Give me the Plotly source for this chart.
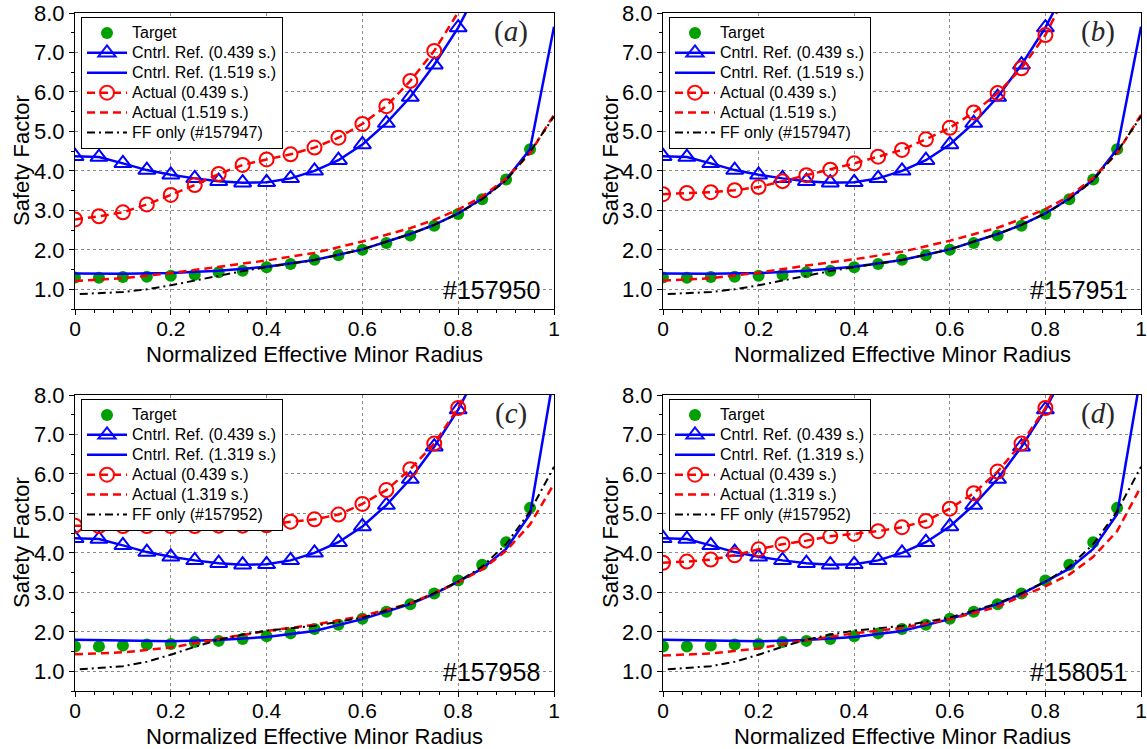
import plotly.graph_objects as go
from plotly.subplots import make_subplots

# ---- data -------------------------------------------------------------
# normalized effective minor radius at the sampled profile points
RHO_PTS = [0.00, 0.05, 0.10, 0.15, 0.20, 0.25, 0.30, 0.35, 0.40, 0.45,
           0.50, 0.55, 0.60, 0.65, 0.70, 0.75, 0.80, 0.85, 0.90, 0.95]

# target q-profiles
TARGET_AB = [1.30, 1.29, 1.31, 1.32, 1.34, 1.37, 1.43, 1.47, 1.56, 1.64,
             1.75, 1.86, 2.00, 2.17, 2.36, 2.61, 2.91, 3.28, 3.78, 4.55]
TARGET_CD = [1.63, 1.63, 1.65, 1.68, 1.69, 1.74, 1.77, 1.82, 1.89, 1.96,
             2.07, 2.18, 2.33, 2.51, 2.70, 2.97, 3.30, 3.70, 4.27, 5.14]

# control reference at 0.439 s (same in every shot)
REF_EARLY = [4.37, 4.35, 4.19, 4.02, 3.90, 3.81, 3.74, 3.70, 3.71, 3.81,
             4.00, 4.27, 4.67, 5.21, 5.87, 6.69, 7.63, 8.80]

# measured q at 0.439 s
ACT_EARLY_A = [2.77, 2.85, 2.95, 3.15, 3.39, 3.64, 3.92, 4.15, 4.29, 4.42,
               4.59, 4.84, 5.19, 5.64, 6.28, 7.04, 8.02]
ACT_EARLY_B = [3.41, 3.44, 3.46, 3.51, 3.59, 3.74, 3.89, 4.03, 4.19, 4.36,
               4.53, 4.80, 5.09, 5.48, 5.97, 6.60, 7.44, 8.64]
ACT_EARLY_C = [4.69, 4.68, 4.68, 4.68, 4.68, 4.68, 4.69, 4.69, 4.70, 4.79,
               4.85, 4.97, 5.24, 5.59, 6.12, 6.77, 7.67, 9.00]
ACT_EARLY_D = [3.75, 3.78, 3.83, 3.94, 4.09, 4.22, 4.31, 4.42, 4.48, 4.55,
               4.65, 4.81, 5.12, 5.51, 6.06, 6.77, 7.67, 9.00]

# late-time profiles
LINE_RHO = [0.0, 0.1, 0.2, 0.3, 0.4, 0.5, 0.6, 0.7, 0.75, 0.8, 0.85, 0.9, 0.95, 1.0]
REF_LATE_AB = [1.40, 1.39, 1.41, 1.47, 1.57, 1.74, 2.01, 2.40, 2.63, 2.92, 3.30, 3.78, 4.55, 7.65]
REF_LATE_CD = [1.80, 1.78, 1.76, 1.79, 1.87, 2.02, 2.32, 2.70, 2.96, 3.27, 3.60, 4.10, 4.98, 8.53]
ACT_LATE_A = [1.21, 1.28, 1.41, 1.57, 1.73, 1.92, 2.21, 2.55, 2.76, 3.02, 3.35, 3.80, 4.45, 5.42]
ACT_LATE_B = [1.22, 1.28, 1.42, 1.60, 1.76, 1.95, 2.23, 2.56, 2.78, 3.03, 3.36, 3.82, 4.45, 5.42]
ACT_LATE_C = [1.43, 1.48, 1.60, 1.82, 2.02, 2.18, 2.40, 2.72, 2.98, 3.25, 3.58, 4.05, 4.72, 5.75]
ACT_LATE_D = [1.40, 1.45, 1.58, 1.79, 1.96, 2.10, 2.32, 2.63, 2.90, 3.15, 3.45, 3.90, 4.55, 5.68]

# feed-forward only discharges
FF_RHO = [0.01, 0.1, 0.15, 0.2, 0.25, 0.3, 0.35, 0.4, 0.5, 0.6, 0.7, 0.75,
          0.8, 0.85, 0.9, 0.95, 1.0]
FF_157947 = [0.88, 0.93, 1.00, 1.10, 1.22, 1.34, 1.46, 1.56, 1.74, 2.01, 2.40,
             2.63, 2.92, 3.28, 3.76, 4.48, 5.38]
FF_157952 = [1.05, 1.13, 1.24, 1.42, 1.62, 1.80, 1.93, 2.03, 2.15, 2.36, 2.72,
             2.98, 3.27, 3.65, 4.22, 5.05, 6.18]

PANELS = [
    dict(tag="a", shot="#157950", late="1.519", ff="#157947", target=TARGET_AB,
         act_early=ACT_EARLY_A, ref_late=REF_LATE_AB, act_late=ACT_LATE_A, ff_q=FF_157947),
    dict(tag="b", shot="#157951", late="1.519", ff="#157947", target=TARGET_AB,
         act_early=ACT_EARLY_B, ref_late=REF_LATE_AB, act_late=ACT_LATE_B, ff_q=FF_157947),
    dict(tag="c", shot="#157958", late="1.319", ff="#157952", target=TARGET_CD,
         act_early=ACT_EARLY_C, ref_late=REF_LATE_CD, act_late=ACT_LATE_C, ff_q=FF_157952),
    dict(tag="d", shot="#158051", late="1.319", ff="#157952", target=TARGET_CD,
         act_early=ACT_EARLY_D, ref_late=REF_LATE_CD, act_late=ACT_LATE_D, ff_q=FF_157952),
]

# ---- styling ----------------------------------------------------------
W, H = 1147, 749
Y_MIN, Y_MAX = 0.5, 8.0
FONT = "Liberation Sans, Arial, sans-serif"
GREEN = "rgb(0,160,0)"
BLUE = "rgb(0,0,255)"
RED = "rgb(255,0,0)"
GRID = "rgb(140,140,140)"

# plot-area boxes in pixels: (left, right, top, bottom)
BOXES = [(75, 554, 13, 309), (663, 1141, 13, 309),
         (75, 554, 395, 691), (663, 1141, 395, 691)]
XTITLE_GAP = 45      # px from the bottom of a plot area to the centre of its x title
YTITLE_X = 21        # px from the left of a plot area's column to the y title centre

fig = make_subplots(rows=2, cols=2)


def visible(vals):
    # hide markers whose centre lies above the axis range
    return [1 if v <= Y_MAX else 0 for v in vals]


def entry(text):
    # legend rows are spaced for a 13 px font; the label itself is 16 px
    return f'<span style="font-size:16px">{text}</span>'


for i, p in enumerate(PANELS):
    row, col = i // 2 + 1, i % 2 + 1
    leg = "legend" if i == 0 else f"legend{i + 1}"
    n_early = len(p["act_early"])

    fig.add_trace(go.Scatter(
        x=RHO_PTS, y=p["target"], mode="markers", name=entry("Target"),
        marker=dict(symbol="circle", size=12, color=GREEN),
        legend=leg), row=row, col=col)

    fig.add_trace(go.Scatter(
        x=RHO_PTS[:len(REF_EARLY)], y=REF_EARLY, mode="lines+markers",
        name=entry("Cntrl. Ref. (0.439 s.)"),
        line=dict(color=BLUE, width=2.5),
        marker=dict(symbol="triangle-up-open", size=15, color=BLUE,
                    line=dict(width=2, color=BLUE), opacity=visible(REF_EARLY)),
        legend=leg), row=row, col=col)

    fig.add_trace(go.Scatter(
        x=LINE_RHO, y=p["ref_late"], mode="lines",
        name=entry(f"Cntrl. Ref. ({p['late']} s.)"),
        line=dict(color=BLUE, width=2.5), legend=leg), row=row, col=col)

    fig.add_trace(go.Scatter(
        x=RHO_PTS[:n_early], y=p["act_early"], mode="lines+markers",
        name=entry("Actual (0.439 s.)"),
        line=dict(color=RED, width=2.5, dash="8px,5px"),
        marker=dict(symbol="circle-open", size=14, color=RED,
                    line=dict(width=2, color=RED), opacity=visible(p["act_early"])),
        legend=leg), row=row, col=col)

    fig.add_trace(go.Scatter(
        x=LINE_RHO, y=p["act_late"], mode="lines",
        name=entry(f"Actual ({p['late']} s.)"),
        line=dict(color=RED, width=2.5, dash="8px,5px"), legend=leg),
        row=row, col=col)

    fig.add_trace(go.Scatter(
        x=FF_RHO, y=p["ff_q"], mode="lines", name=entry(f"FF only ({p['ff']})"),
        line=dict(color="black", width=2, dash="8px,4px,2px,4px"), legend=leg),
        row=row, col=col)

    left, right, top, bottom = BOXES[i]
    xa = "xaxis" if i == 0 else f"xaxis{i + 1}"
    ya = "yaxis" if i == 0 else f"yaxis{i + 1}"
    xref = "x" if i == 0 else f"x{i + 1}"
    yref = "y" if i == 0 else f"y{i + 1}"

    fig.layout[xa].update(
        domain=[left / W, right / W], range=[0, 1], automargin=False,
        tickmode="array", tickvals=[0, 0.2, 0.4, 0.6, 0.8, 1.0],
        ticktext=["0", "0.2", "0.4", "0.6", "0.8", "1"],
        ticks="outside", ticklen=5, tickwidth=1, tickcolor="black",
        ticklabelstandoff=-4, ticklabeloverflow="allow",
        minor=dict(dtick=0.04, tick0=0, ticks="outside", ticklen=3,
                   tickcolor="black", showgrid=False),
        showline=True, linecolor="black", linewidth=1, mirror=True,
        showgrid=True, gridcolor=GRID, griddash="dot", gridwidth=1,
        zeroline=False, tickfont=dict(family=FONT, size=21, color="black"),
        anchor=yref)
    fig.layout[ya].update(
        domain=[1 - bottom / H, 1 - top / H], range=[Y_MIN, Y_MAX], automargin=False,
        tickmode="array", tickvals=[1, 2, 3, 4, 5, 6, 7, 8], tickformat=".1f",
        ticks="outside", ticklen=5, tickwidth=1, tickcolor="black",
        ticklabeloverflow="allow",
        minor=dict(dtick=0.5, tick0=0.5, ticks="outside", ticklen=3,
                   tickcolor="black", showgrid=False),
        showline=True, linecolor="black", linewidth=1, mirror=True,
        showgrid=True, gridcolor=GRID, griddash="dot", gridwidth=1,
        zeroline=False, tickfont=dict(family=FONT, size=22, color="black"),
        anchor=xref)

    # axis titles
    col_left = 0 if col == 1 else 589
    fig.add_annotation(
        x=(left + right) / 2 / W, y=1 - (bottom + XTITLE_GAP) / H,
        xref="paper", yref="paper", xanchor="center", yanchor="middle",
        showarrow=False, text="Normalized Effective Minor Radius",
        font=dict(family=FONT, size=22, color="black"))
    fig.add_annotation(
        x=(col_left + YTITLE_X) / W, y=1 - (top + bottom) / 2 / H,
        xref="paper", yref="paper", xanchor="center", yanchor="middle",
        textangle=-90, showarrow=False, text="Safety Factor",
        font=dict(family=FONT, size=22, color="black"))

    # legend box in the upper-left corner of each panel
    fig.layout[leg] = dict(
        x=(left + 6) / W, y=1 - (top + 4) / H, xanchor="left", yanchor="top",
        bgcolor="white", bordercolor="black", borderwidth=1,
        font=dict(family=FONT, size=13, color="black"),
        itemwidth=40, tracegroupgap=0, traceorder="normal")

    fig.add_annotation(
        x=0.91, y=7.52, xref=xref, yref=yref, showarrow=False,
        text=f"(<i>{p['tag']}</i>)",
        font=dict(family="Liberation Serif, DejaVu Serif, serif", size=29,
                  color="rgb(40,40,40)"))
    fig.add_annotation(
        x=0.975, y=0.98, xref=xref, yref=yref, showarrow=False,
        xanchor="right", yanchor="middle", text=p["shot"],
        font=dict(family=FONT, size=25, color="black"))

fig.update_layout(
    width=W, height=H, margin=dict(l=0, r=0, t=0, b=0, autoexpand=False),
    paper_bgcolor="white", plot_bgcolor="white", showlegend=True)

fig.write_html("out.html")
